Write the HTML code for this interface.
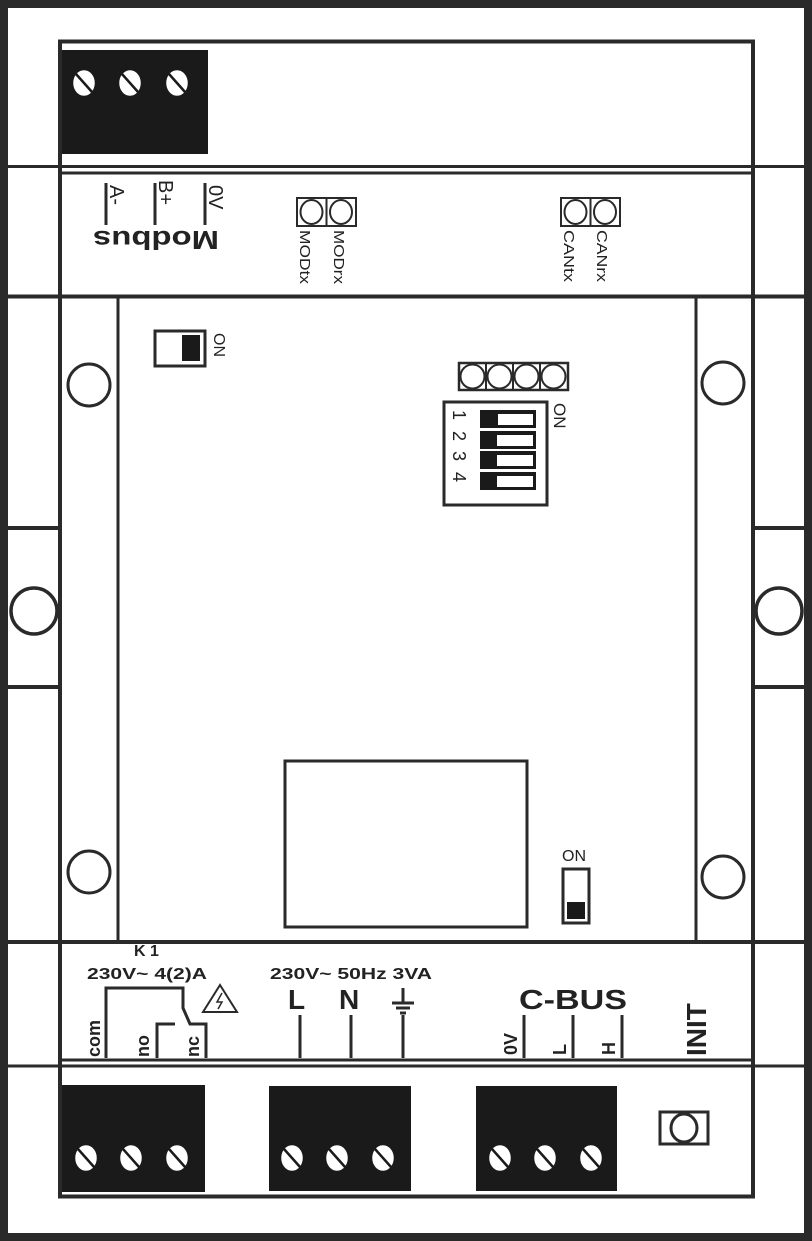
<!DOCTYPE html>
<html><head><meta charset="utf-8"><style>
html,body{margin:0;padding:0;background:#fff}
svg{display:block}
text{font-family:"Liberation Sans",Arial,sans-serif;fill:#222}
</style></head><body>
<svg width="812" height="1241" viewBox="0 0 812 1241" xmlns="http://www.w3.org/2000/svg">
<g stroke="#2a2a2a" fill="none">
<rect x="4" y="4" width="804" height="1233" stroke-width="8"/>
<rect x="60" y="41.5" width="693" height="1155" stroke-width="4"/>
<line x1="4" y1="166.5" x2="808" y2="166.5" stroke-width="3"/>
<line x1="60" y1="173" x2="753" y2="173" stroke-width="3"/>
<line x1="4" y1="296.5" x2="808" y2="296.5" stroke-width="4"/>
<line x1="4" y1="942" x2="808" y2="942" stroke-width="4"/>
<line x1="60" y1="1060" x2="753" y2="1060" stroke-width="3"/>
<line x1="4" y1="1066" x2="808" y2="1066" stroke-width="3"/>
<line x1="118" y1="296" x2="118" y2="942" stroke-width="3"/>
<line x1="696" y1="296" x2="696" y2="942" stroke-width="3"/>
<line x1="6" y1="528" x2="60" y2="528" stroke-width="4"/>
<line x1="6" y1="687" x2="60" y2="687" stroke-width="4"/>
<line x1="753" y1="528" x2="808" y2="528" stroke-width="4"/>
<line x1="753" y1="687" x2="808" y2="687" stroke-width="4"/>
<circle cx="34" cy="611" r="23" stroke-width="3.5"/>
<circle cx="779" cy="611" r="23" stroke-width="3.5"/>
<circle cx="89" cy="385" r="21" stroke-width="3"/>
<circle cx="89" cy="872" r="21" stroke-width="3"/>
<circle cx="723" cy="383" r="21" stroke-width="3"/>
<circle cx="723" cy="877" r="21" stroke-width="3"/>
<rect x="285" y="761" width="242" height="166" stroke-width="3"/>
<rect x="563" y="869" width="26" height="54" stroke-width="3"/>
<rect x="155" y="331" width="50" height="35" stroke-width="3"/>
<rect x="459" y="363" width="109" height="27" stroke-width="2.5"/>
<line x1="486" y1="363" x2="486" y2="390" stroke-width="2"/>
<line x1="513" y1="363" x2="513" y2="390" stroke-width="2"/>
<line x1="540" y1="363" x2="540" y2="390" stroke-width="2"/>
<circle cx="472.5" cy="376.5" r="12" stroke-width="2"/>
<circle cx="499.5" cy="376.5" r="12" stroke-width="2"/>
<circle cx="526.5" cy="376.5" r="12" stroke-width="2"/>
<circle cx="553.5" cy="376.5" r="12" stroke-width="2"/>
<rect x="444" y="402" width="103" height="103" stroke-width="3"/>
<rect x="297" y="198" width="59" height="28" stroke-width="2"/>
<line x1="326.5" y1="198" x2="326.5" y2="226" stroke-width="2"/>
<ellipse cx="311.5" cy="212" rx="11" ry="12" stroke-width="2"/>
<ellipse cx="341" cy="212" rx="11" ry="12" stroke-width="2"/>
<rect x="561" y="198" width="59" height="28" stroke-width="2"/>
<line x1="590.5" y1="198" x2="590.5" y2="226" stroke-width="2"/>
<ellipse cx="575.5" cy="212" rx="11" ry="12" stroke-width="2"/>
<ellipse cx="605" cy="212" rx="11" ry="12" stroke-width="2"/>
<line x1="106" y1="183" x2="106" y2="225" stroke-width="3"/>
<line x1="155" y1="183" x2="155" y2="225" stroke-width="3"/>
<line x1="205" y1="183" x2="205" y2="225" stroke-width="3"/>
<polyline points="106,1058 106,988 183,988 183,1008 190,1024 206,1024 206,1058" stroke-width="3"/>
<polyline points="157,1058 157,1024 175,1024" stroke-width="3"/>
<polygon points="220,985 203,1012 237,1012" stroke-width="2"/>
<polyline points="222,993 217,1002 222,1002 218,1009" stroke-width="1.5"/>
<line x1="300" y1="1015" x2="300" y2="1058" stroke-width="3"/>
<line x1="351" y1="1015" x2="351" y2="1058" stroke-width="3"/>
<line x1="403" y1="1015" x2="403" y2="1058" stroke-width="3"/>
<line x1="403" y1="988" x2="403" y2="1004" stroke-width="3"/>
<line x1="392" y1="1003" x2="414" y2="1003" stroke-width="3"/>
<line x1="396" y1="1008" x2="410" y2="1008" stroke-width="3"/>
<line x1="400" y1="1013" x2="406" y2="1013" stroke-width="3"/>
<line x1="524" y1="1015" x2="524" y2="1058" stroke-width="3"/>
<line x1="573" y1="1015" x2="573" y2="1058" stroke-width="3"/>
<line x1="622" y1="1015" x2="622" y2="1058" stroke-width="3"/>
<rect x="660" y="1112" width="48" height="32" stroke-width="3"/>
<ellipse cx="684" cy="1128" rx="13" ry="14" stroke-width="3"/>
</g>
<g fill="#1a1a1a">
<rect x="62" y="50" width="146" height="104"/>
<rect x="62" y="1085" width="143" height="107"/>
<rect x="269" y="1086" width="142" height="105"/>
<rect x="476" y="1086" width="141" height="105"/>
<rect x="182" y="335" width="18" height="26"/>
<rect x="567" y="902" width="18" height="17"/>
<rect x="480" y="410" width="56" height="18"/>
<rect x="480" y="431" width="56" height="18"/>
<rect x="480" y="451" width="56" height="18"/>
<rect x="480" y="472" width="56" height="18"/>
</g>
<g fill="#fff">
<rect x="498" y="414" width="35" height="11"/>
<rect x="497" y="435" width="36" height="11"/>
<rect x="497" y="455" width="36" height="11"/>
<rect x="497" y="476" width="36" height="11"/>
</g>
<g fill="#fff" stroke="#1a1a1a" stroke-width="2.5">
<ellipse cx="84" cy="83" rx="12" ry="14"/><line x1="76" y1="74" x2="92" y2="92"/>
<ellipse cx="130" cy="83" rx="12" ry="14"/><line x1="122" y1="74" x2="138" y2="92"/>
<ellipse cx="177" cy="83" rx="12" ry="14"/><line x1="169" y1="74" x2="185" y2="92"/>
<ellipse cx="86" cy="1158" rx="12" ry="14"/><line x1="78" y1="1149" x2="94" y2="1167"/>
<ellipse cx="131" cy="1158" rx="12" ry="14"/><line x1="123" y1="1149" x2="139" y2="1167"/>
<ellipse cx="177" cy="1158" rx="12" ry="14"/><line x1="169" y1="1149" x2="185" y2="1167"/>
<ellipse cx="292" cy="1158" rx="12" ry="14"/><line x1="284" y1="1149" x2="300" y2="1167"/>
<ellipse cx="337" cy="1158" rx="12" ry="14"/><line x1="329" y1="1149" x2="345" y2="1167"/>
<ellipse cx="383" cy="1158" rx="12" ry="14"/><line x1="375" y1="1149" x2="391" y2="1167"/>
<ellipse cx="500" cy="1158" rx="12" ry="14"/><line x1="492" y1="1149" x2="508" y2="1167"/>
<ellipse cx="545" cy="1158" rx="12" ry="14"/><line x1="537" y1="1149" x2="553" y2="1167"/>
<ellipse cx="591" cy="1158" rx="12" ry="14"/><line x1="583" y1="1149" x2="599" y2="1167"/>
</g>
<g font-size="20">
<text transform="translate(110,185) rotate(90)">A-</text>
<text transform="translate(159,180) rotate(90)">B+</text>
<text transform="translate(209,185) rotate(90)">0V</text>
</g>
<text transform="translate(219,231) rotate(180)" font-size="26" font-weight="bold" textLength="126" lengthAdjust="spacingAndGlyphs">Modbus</text>
<g font-size="15">
<text transform="translate(300,230) rotate(90)" textLength="54" lengthAdjust="spacingAndGlyphs">MODtx</text>
<text transform="translate(334,230) rotate(90)" textLength="54" lengthAdjust="spacingAndGlyphs">MODrx</text>
<text transform="translate(564,230) rotate(90)" textLength="52" lengthAdjust="spacingAndGlyphs">CANtx</text>
<text transform="translate(597,230) rotate(90)" textLength="52" lengthAdjust="spacingAndGlyphs">CANrx</text>
</g>
<text transform="translate(214,333) rotate(90)" font-size="16">ON</text>
<text transform="translate(554,403) rotate(90)" font-size="17">ON</text>
<g font-size="18">
<text transform="translate(453,410) rotate(90)">1</text>
<text transform="translate(453,431) rotate(90)">2</text>
<text transform="translate(453,451) rotate(90)">3</text>
<text transform="translate(453,472) rotate(90)">4</text>
</g>
<text x="562" y="861" font-size="16">ON</text>
<g font-size="16" font-weight="bold">
<text x="134" y="956">K 1</text>
<text x="87" y="979" textLength="120" lengthAdjust="spacingAndGlyphs">230V~ 4(2)A</text>
<text x="270" y="979" textLength="162" lengthAdjust="spacingAndGlyphs">230V~ 50Hz 3VA</text>
</g>
<g font-size="18" font-weight="bold">
<text transform="translate(100,1057) rotate(-90)">com</text>
<text transform="translate(149,1057) rotate(-90)">no</text>
<text transform="translate(199,1057) rotate(-90)">nc</text>
<text transform="translate(517,1055) rotate(-90)">0V</text>
<text transform="translate(566,1055) rotate(-90)">L</text>
<text transform="translate(615,1055) rotate(-90)">H</text>
</g>
<g font-size="28" font-weight="bold">
<text x="288" y="1009">L</text>
<text x="339" y="1009">N</text>
<text x="519" y="1009" textLength="108" lengthAdjust="spacingAndGlyphs">C-BUS</text>
<text transform="translate(706,1056) rotate(-90)">INIT</text>
</g>
</svg>
</body></html>
